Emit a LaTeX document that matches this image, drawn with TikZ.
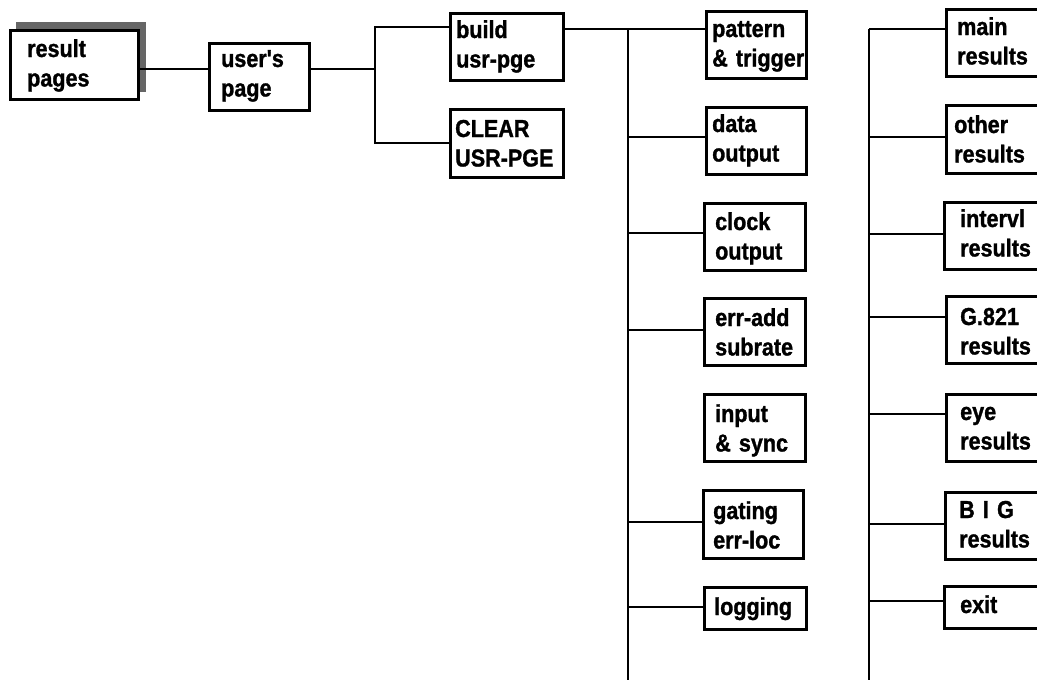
\documentclass[tikz,border=0pt]{standalone}
\usepackage{fontspec}
\newfontfamily\diafont{Liberation Sans}[Ligatures=TeXOff, UprightFont={* Bold}, FakeStretch=0.88, FakeBold=1.2]
\definecolor{shadowgray}{HTML}{666666}
\tikzset{
  box/.style={draw, line width=2.8pt, inner sep=0pt, anchor=north west, fill=white},
  txt/.style={anchor=base west, inner sep=0pt, text width=130pt, align=left,
    font=\diafont\fontsize{24.5}{29.5}\selectfont},
  conn/.style={line width=2.2pt},
  trunk/.style={line width=2.7pt}
}
\begin{document}
\begin{tikzpicture}[x=1pt,y=-1pt]
\clip (0,0) rectangle (1037,680);
\fill[white] (0,0) rectangle (1037,680);
% shadow
\fill[shadowgray] (16,22) rectangle (146,92);
% left part
\node[box, minimum width=128pt, minimum height=69pt] (rp) at (9,29) {};
\node[txt] at ([shift={(18,28)}]rp.north west) {result\\pages};
\node[box, minimum width=100pt, minimum height=67pt] (up) at (208,42) {};
\node[txt] at ([shift={(13,25)}]up.north west) {user's\\page};
\node[box, minimum width=113pt, minimum height=67pt] (bu) at (449,12) {};
\node[txt] at ([shift={(7,26)}]bu.north west) {build\\usr-pge};
\node[box, minimum width=113pt, minimum height=68pt] (cl) at (449,108) {};
\node[txt] at ([shift={(6,29)}]cl.north west) {CLEAR\\USR-PGE};
% middle column
\node[box, minimum width=100pt, minimum height=67pt] (pt) at (705,10) {};
\node[txt] at ([shift={(7,27)}]pt.north west) {pattern\\\& trigger};
\node[box, minimum width=100pt, minimum height=67pt] (do) at (705,106) {};
\node[txt] at ([shift={(7,26)}]do.north west) {data\\output};
\node[box, minimum width=101pt, minimum height=67pt] (co) at (703,202) {};
\node[txt] at ([shift={(12,28)}]co.north west) {clock\\output};
\node[box, minimum width=101pt, minimum height=67pt] (ea) at (703,297) {};
\node[txt] at ([shift={(12,29)}]ea.north west) {err-add\\subrate};
\node[box, minimum width=101pt, minimum height=67pt] (is) at (703,393) {};
\node[txt] at ([shift={(12,29)}]is.north west) {input\\\& sync};
\node[box, minimum width=100pt, minimum height=68pt] (ga) at (702,489) {};
\node[txt] at ([shift={(11,30)}]ga.north west) {gating\\err-loc};
\node[box, minimum width=102pt, minimum height=42pt] (lg) at (703,586) {};
\node[txt] at ([shift={(11,29)}]lg.north west) {logging};
% right column
\node[box, minimum width=110pt, minimum height=67pt] (mr) at (945,8) {};
\node[txt] at ([shift={(12,27)}]mr.north west) {main\\results};
\node[box, minimum width=110pt, minimum height=68pt] (or) at (945,104) {};
\node[txt] at ([shift={(9,29)}]or.north west) {other\\results};
\node[box, minimum width=110pt, minimum height=67pt] (ir) at (943,201) {};
\node[txt] at ([shift={(17,26)}]ir.north west) {intervl\\results};
\node[box, minimum width=110pt, minimum height=67pt] (gr) at (945,295) {};
\node[txt] at ([shift={(15,30)}]gr.north west) {G.821\\results};
\node[box, minimum width=110pt, minimum height=67pt] (er) at (945,393) {};
\node[txt] at ([shift={(15,27)}]er.north west) {eye\\results};
\node[box, minimum width=110pt, minimum height=67pt] (br) at (944,491) {};
\node[txt] at ([shift={(15,27)}]br.north west) {B I G\\results};
\node[box, minimum width=110pt, minimum height=42pt] (ex) at (943,585) {};
\node[txt] at ([shift={(17,28)}]ex.north west) {exit};
% junction coordinates
\coordinate (j1) at (375,69);
\coordinate (jb) at (375,27);
\coordinate (jc) at (375,143);
\coordinate (tLtop) at (628,29);
\coordinate (tLbot) at (628,690);
\coordinate (tRtop) at (869,29);
\coordinate (tRbot) at (869,690);
% connectors
\draw[conn] (rp.east |- j1) -- (up.west |- j1);
\draw[conn] (up.east |- j1) -- (j1);
\draw[conn] (bu.west |- jb) -- (jb) -- (jc) -- (cl.west |- jc);
\draw[conn] (bu.east |- tLtop) -- (pt.west |- tLtop);
\draw[trunk] (tLtop) -- (tLbot);
\draw[trunk] (tRtop) -- (tRbot);
\foreach \n/\yy in {do/137, co/233, ea/330, ga/522, lg/607}
  \draw[conn] (tLtop |- 0,\yy) -- (\n.west |- 0,\yy);
\foreach \n/\yy in {mr/29, or/137, ir/234, gr/317, er/414, br/524, ex/601}
  \draw[conn] (tRtop |- 0,\yy) -- (\n.west |- 0,\yy);
\end{tikzpicture}
\end{document}
